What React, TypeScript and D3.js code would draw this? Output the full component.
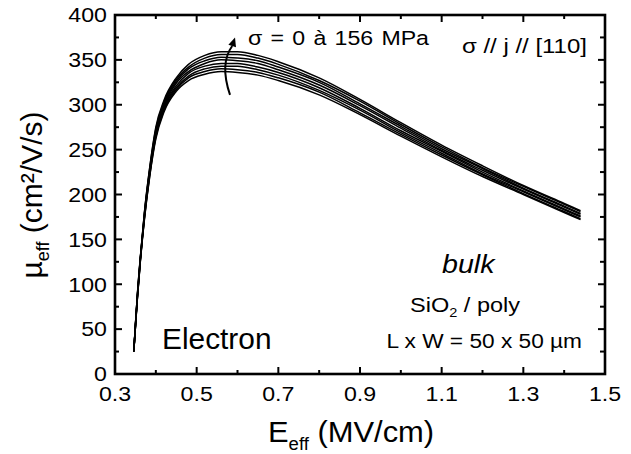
import React, { useEffect } from "react";
import * as d3 from "d3";

// E_eff sample points (MV/cm)
const eField = [0.346, 0.35, 0.355, 0.362, 0.372, 0.385, 0.40, 0.42, 0.45, 0.48, 0.52, 0.56, 0.60, 0.65, 0.70, 0.80, 0.90, 1.00, 1.10, 1.20, 1.30, 1.40, 1.44];

// stress levels (MPa)
const stress = [0, 22, 45, 67, 89, 111, 134, 156];

// mobility curves (cm²/V/s), one per stress level
const mu000 = [25, 52, 85, 125, 172, 220, 262, 292, 315, 327, 334, 337, 336, 333, 327, 311, 289, 265, 242, 220, 200, 180, 172];
const mu022 = [25, 52, 86, 126, 173, 221, 264, 294, 317, 330, 337, 340, 339, 336, 330, 314, 291, 267, 244, 222, 201, 181, 173];
const mu045 = [25, 53, 86, 126, 174, 223, 266, 296, 319, 332, 340, 343, 343, 339, 333, 316, 294, 269, 246, 223, 203, 183, 175];
const mu067 = [25, 53, 87, 127, 175, 224, 268, 298, 321, 335, 343, 346, 346, 342, 336, 319, 296, 271, 248, 225, 204, 184, 176];
const mu089 = [25, 54, 88, 128, 177, 226, 269, 299, 324, 337, 346, 350, 349, 346, 339, 322, 299, 274, 249, 227, 206, 186, 178];
const mu111 = [25, 54, 89, 129, 178, 227, 271, 301, 326, 340, 349, 353, 352, 349, 342, 325, 301, 276, 251, 229, 207, 187, 179];
const mu134 = [25, 55, 89, 129, 179, 229, 273, 303, 328, 342, 352, 356, 356, 352, 345, 327, 304, 278, 253, 230, 209, 189, 181];
const mu156 = [25, 55, 90, 130, 180, 230, 275, 305, 330, 345, 355, 359, 359, 355, 348, 330, 306, 280, 255, 232, 210, 190, 182];

const curves = [mu000, mu022, mu045, mu067, mu089, mu111, mu134, mu156];

const xMajor = [0.3, 0.5, 0.7, 0.9, 1.1, 1.3, 1.5];
const xMinor = [0.4, 0.6, 0.8, 1.0, 1.2, 1.4];
const yMajor = [0, 50, 100, 150, 200, 250, 300, 350, 400];
const yMinor = [25, 75, 125, 175, 225, 275, 325, 375];

// arrow path points (E, mu)
const arrowPts = [[0.5817, 311], [0.5700, 342], [0.5939, 375]];

const W = 631, H = 454;
const L = 115, R = 605, TOP = 15, B = 374;
const FONT = "'Liberation Sans', Arial, Helvetica, sans-serif";

function T(props: any) {
  const { x, y, size, sx = 1.13, anchor = "start", italic = false, wordSpacing = 0, children } = props;
  return (
    <text
      transform={`translate(${x},${y}) scale(${sx},1)`}
      textAnchor={anchor}
      fontSize={size}
      fontStyle={italic ? "italic" : "normal"}
      fontFamily={FONT}
      wordSpacing={wordSpacing}
      fill="#000"
    >
      {children}
    </text>
  );
}

export default function App() {
  useEffect(() => {
    document.body.style.margin = "0";
  }, []);

  const x = d3.scaleLinear().domain([0.3, 1.5]).range([L, R]);
  const y = d3.scaleLinear().domain([0, 400]).range([B, TOP]);

  const line = d3
    .line<number>()
    .x((_, i) => x(eField[i]))
    .y((d) => y(d))
    .curve(d3.curveMonotoneX);

  const p0 = arrowPts[0], p1 = arrowPts[1], p2 = arrowPts[2];
  const ax0 = x(p0[0]), ay0 = y(p0[1]);
  const ax1 = x(p1[0]), ay1 = y(p1[1]);
  const ax2 = x(p2[0]), ay2 = y(p2[1]);
  const dx = ax2 - ax1, dy = ay2 - ay1;
  const len = Math.hypot(dx, dy);
  const ux = dx / len, uy = dy / len;
  const headL = 9, headW = 4;
  const bx = ax2 - ux * headL, by = ay2 - uy * headL;
  const head = `M${ax2},${ay2} L${bx - uy * headW},${by + ux * headW} L${bx + uy * headW},${by - ux * headW} Z`;

  return (
    <svg width={W} height={H} style={{ position: "absolute", left: 0, top: 0, background: "#fff" }}>
      <rect x={0} y={0} width={W} height={H} fill="#fff" />
      {/* curves */}
      <g fill="none" stroke="#000" strokeWidth={1.5}>
        {curves.map((c, i) => (
          <path key={stress[i]} d={line(c) || ""} />
        ))}
      </g>
      {/* arrow */}
      <path d={`M${ax0},${ay0} Q${2 * ax1 - (ax0 + bx) / 2},${2 * ay1 - (ay0 + by) / 2} ${bx},${by}`} fill="none" stroke="#000" strokeWidth={2} />
      <path d={head} fill="#000" />

      {/* ticks */}
      <g stroke="#000" strokeWidth={2}>
        {xMajor.map((v) => (
          <g key={"xM" + v}>
            <line x1={x(v)} x2={x(v)} y1={B} y2={B - 7} />
            <line x1={x(v)} x2={x(v)} y1={TOP} y2={TOP + 7} />
          </g>
        ))}
        {xMinor.map((v) => (
          <g key={"xm" + v}>
            <line x1={x(v)} x2={x(v)} y1={B} y2={B - 4} />
            <line x1={x(v)} x2={x(v)} y1={TOP} y2={TOP + 4} />
          </g>
        ))}
        {yMajor.map((v) => (
          <g key={"yM" + v}>
            <line x1={L} x2={L + 7} y1={y(v)} y2={y(v)} />
            <line x1={R} x2={R - 7} y1={y(v)} y2={y(v)} />
          </g>
        ))}
        {yMinor.map((v) => (
          <g key={"ym" + v}>
            <line x1={L} x2={L + 4} y1={y(v)} y2={y(v)} />
            <line x1={R} x2={R - 5} y1={y(v)} y2={y(v)} />
          </g>
        ))}
      </g>
      {/* frame */}
      <rect x={L} y={TOP} width={R - L} height={B - TOP} fill="none" stroke="#000" strokeWidth={2.6} />

      {/* tick labels */}
      {xMajor.map((v) => (
        <T key={"xl" + v} x={x(v)} y={401} size={20.5} anchor="middle">
          {d3.format(".1f")(v)}
        </T>
      ))}
      {yMajor.map((v) => (
        <T key={"yl" + v} x={107} y={y(v) + 7.3} size={20.5} anchor="end">
          {String(v)}
        </T>
      ))}

      {/* annotations */}
      <T x={248} y={45} size={20.5} wordSpacing={1.6}>σ = 0 à 156 MPa</T>
      <T x={462} y={53} size={20.5} sx={1.17}>σ // j // [110]</T>
      <T x={442} y={273} size={26} sx={1.1} italic>bulk</T>
      <T x={410} y={312} size={21} sx={1.12}>
        SiO<tspan fontSize={13} dy={5}>2</tspan><tspan dy={-5}> / poly</tspan>
      </T>
      <T x={582} y={348} size={21} sx={1.08} anchor="end">L x W = 50 x 50 µm</T>
      <T x={162} y={349} size={29} sx={1.03}>Electron</T>

      {/* axis titles */}
      <T x={268} y={442} size={30} sx={1.03}>
        E<tspan fontSize={18} dy={8}>eff</tspan><tspan dy={-8}> (MV/cm)</tspan>
      </T>
      <text
        transform="translate(41.5,195) rotate(-90)"
        textAnchor="middle"
        fontSize={30}
        fontFamily={FONT}
        fill="#000"
      >
        µ<tspan fontSize={18} dy={7}>eff</tspan><tspan dy={-7}> (cm²/V/s)</tspan>
      </text>
    </svg>
  );
}
